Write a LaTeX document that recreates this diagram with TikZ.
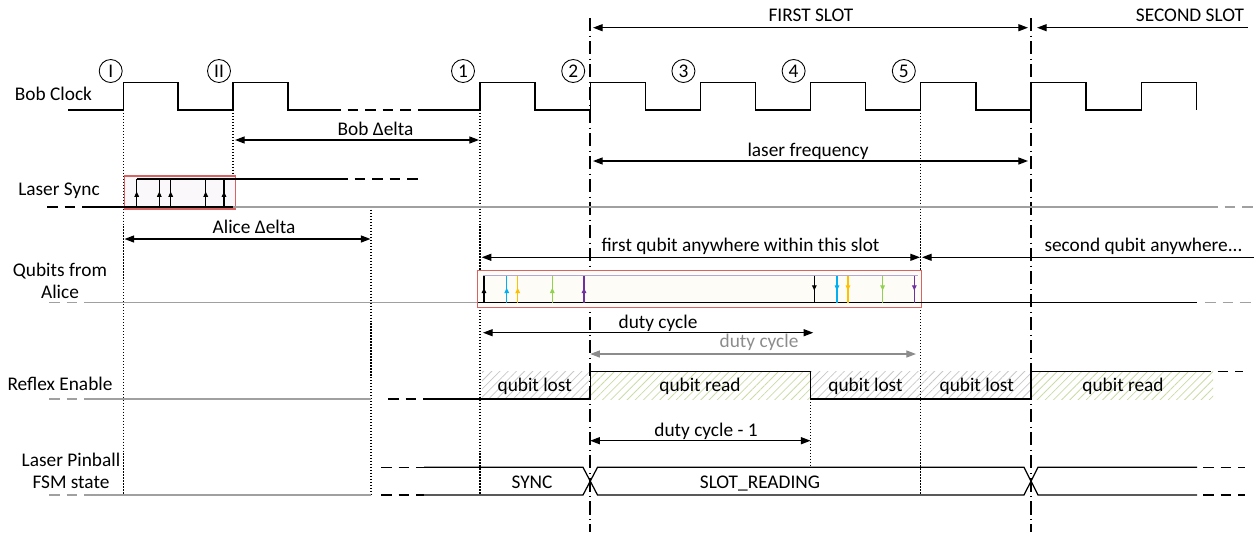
\documentclass[tikz,border=0pt]{standalone}
\usepackage{fontspec}
\setmainfont{Carlito}
\usepackage{tikz}
\usepackage{xcolor}
\usetikzlibrary{arrows.meta,decorations.markings,patterns.meta}
\definecolor{boxred}{HTML}{D96262}
\definecolor{boxfill}{HTML}{FAF8FA}
\definecolor{qfill}{HTML}{FDFCF6}
\definecolor{lineg}{HTML}{A0A0A0}
\definecolor{textg}{HTML}{8C8C8C}
\definecolor{lav}{HTML}{B4A7D6}
\definecolor{qblue}{HTML}{00B0F0}
\definecolor{qyellow}{HTML}{FFC000}
\definecolor{qgreen}{HTML}{92D050}
\definecolor{qpurple}{HTML}{7030A0}
\definecolor{hatchg}{HTML}{C8C8C8}
\definecolor{hatchgr}{HTML}{CADBA6}

\begin{document}
\begin{tikzpicture}[x=0.02cm,y=-0.02cm,font=\fontsize{11}{12.7}\selectfont,
  sig/.style={line width=0.7pt},
  base/.style={lineg,line width=0.7pt},
  dsh/.style={dash pattern=on 6pt off 4pt},
  tick/.style={line width=0.6pt,dash pattern=on 0.7pt off 1pt},
  slot/.style={line width=0.9pt,dash pattern=on 7.5pt off 2.5pt on 0.6pt off 2.5pt},
  dim/.style={line width=0.7pt,{Triangle[length=5.5pt,width=4pt]}-{Triangle[length=5.5pt,width=4pt]}},
  num/.style={circle,draw,line width=0.5pt,minimum size=0.46cm,inner sep=0pt},
  lbl/.style={anchor=base,inner sep=0pt},
  qup/.style={line width=0.7pt,postaction={decorate},
    decoration={markings,mark=at position 0.55 with {\arrow{Triangle[length=3pt,width=2.6pt]}}}},
  lost/.style={pattern={Lines[angle=45,distance=3.3pt,line width=0.45pt]},pattern color=hatchg},
  read/.style={pattern={Lines[angle=45,distance=3.3pt,line width=0.45pt]},pattern color=hatchgr}]
\useasboundingbox (0,0) rectangle (1254,535);

\fill[lost] (482,371.7) rectangle (590.2,399);
\fill[read] (590.2,371.7) rectangle (810.6,399);
\fill[lost] (810.6,371.7) rectangle (1031,399);
\fill[read] (1031,371.7) rectangle (1213,399);

\draw[slot] (590.2,18)--(590.2,532);
\draw[slot] (1031,18)--(1031,532);
\draw[tick] (123.7,110)--(123.7,495);
\draw[tick] (233,110)--(233,207);
\draw[tick] (371,207)--(371,495);
\draw[tick] (480,110)--(480,495);
\draw[tick] (810.6,399)--(810.6,467.3);
\draw[tick] (920.8,110)--(920.8,495);

\node[lbl] (lclk) at (53.5,100) {Bob Clock};
\node[lbl] (lsync) at (59,195) {Laser Sync};
\node[align=center,inner sep=0pt] (lqub) at (60,281) {Qubits from\\Alice};
\node[lbl] (lrefl) at (60,390) {Reflex Enable};
\node[align=center,inner sep=0pt] (lfsm) at (71,471) {Laser Pinball\\FSM state};

\draw[sig] (68,110)--(123.7,110)--(123.7,82.7)--(178,82.7)--(178,110)--(233,110)--(233,82.7)--(288,82.7)--(288,110)--(330,110);
\draw[sig,dsh] (330,110)--(422,110);
\draw[sig] (422,110) foreach \i in {0,...,5}{--({480+110.2*\i},110)--++(0,-27.3)--++(55.1,0)--++(0,27.3)}
  --(1141.2,110)--(1141.2,82.7)--(1196.3,82.7)--(1196.3,110);
\node[num] (cI) at (110.7,71) {I};
\node[num] (cII) at (219,71) {II};
\foreach \n in {1,...,5} \node[num] (c\n) at ({463+110.2*(\n-1)},71) {\n};

\draw[dim] (593,27.7)--(1028,27.7);
\draw[sig,{Triangle[length=5.5pt,width=4pt]}-] (1037,27.7)--(1248,27.7);
\node[lbl] (tfirst) at (811,21.5) {FIRST SLOT};
\node[lbl] (tsecond) at (1190,21.5) {SECOND SLOT};
\draw[dim] (235,140)--(479,140);
\node[lbl] (tbob) at (375.5,135) {Bob Δelta};
\draw[dim] (593,161)--(1028,161);
\node[lbl] (tfreq) at (808,156) {laser frequency};

\draw[draw=boxred,fill=boxfill,line width=0.8pt] (124.3,176) rectangle (235.3,209);
\draw[sig,dsh] (47,207)--(90,207);
\draw[sig] (90,207)--(233,207);
\draw[sig] (136.7,179)--(337,179);
\draw[sig,dsh] (337,179)--(418,179);
\draw[base] (233,207)--(1207,207);
\draw[base,dsh] (1207,207)--(1254,207);
\foreach \x in {136.7,159.3,170.7,205.7,224} \draw[qup] (\x,207)--(\x,179);

\draw[dim] (124.5,239)--(370.5,239);
\node[lbl] (talice) at (254,233.3) {Alice Δelta};
\draw[dim] (481.7,257.3)--(920,257.3);
\node[lbl] (tfq) at (740.5,251.7) {first qubit anywhere within this slot};
\draw[sig,{Triangle[length=5.5pt,width=4pt]}-] (922,257.3)--(1254,257.3);
\node[lbl] (tsq) at (1143.5,251.7) {second qubit anywhere...};

\draw[base,dsh] (49,302.7)--(90,302.7);
\draw[base] (90,302.7)--(478,302.7);
\draw[draw=boxred,fill=qfill,line width=0.8pt] (477.7,270.7) rectangle (921.7,307.3);
\draw[lav,line width=0.8pt] (483,275.7)--(918,275.7);
\draw[sig] (478,302.7)--(1197,302.7);
\draw[base,dsh] (1205,302.7)--(1254,302.7);
\foreach \x/\c in {484/black,506.7/qblue,517.7/qyellow,552.3/qgreen,584/qpurple}{
  \draw[qup,\c] (\x,302.7)--(\x,275.7);
  \draw[qup,\c] ({\x+330.3},275.7)--({\x+330.3},302.7);
}

\draw[dim] (483,332.7)--(813.3,332.7);
\node[lbl] (tduty) at (658,328.3) {duty cycle};
\draw[dim,textg] (590.2,354)--(916,354);
\node[lbl,textg] (tduty2) at (759,347.7) {duty cycle};

\draw[base,dsh] (49,399)--(90,399);
\draw[base] (90,399)--(371,399);
\draw[sig,dsh] (388,399)--(428,399);
\draw[sig] (428,399)--(590.2,399)--(590.2,371.7)--(810.6,371.7)--(810.6,399)--(1031,399)--(1031,371.7)--(1200,371.7);
\draw[sig,dsh] (1200,371.7)--(1243,371.7);
\node[lbl] (tl1) at (534.7,391.7) {qubit lost};
\node[lbl] (tr1) at (700,391.7) {qubit read};
\node[lbl] (tl2) at (865.5,391.7) {qubit lost};
\node[lbl] (tl3) at (976.7,391.7) {qubit lost};
\node[lbl] (tr2) at (1123,391.7) {qubit read};

\draw[dim] (590.2,440.7)--(810.6,440.7);
\node[lbl] (tduty3) at (706,436) {duty cycle - 1};

\draw[base,dsh] (49,495)--(90,495);
\draw[base] (90,495)--(371,495);
\draw[sig,dsh] (381,467.3)--(424,467.3) (381,495)--(424,495);
\draw[sig] (424,467.3)--(583,467.3)--(597.5,495)--(1024,495)--(1038,467.3)--(1197,467.3);
\draw[sig] (424,495)--(583,495)--(597.5,467.3)--(1024,467.3)--(1038,495)--(1197,495);
\draw[sig,dsh] (1203,467.3)--(1245,467.3) (1203,495)--(1245,495);
\node[lbl] (tsync) at (532,488.3) {SYNC};
\node[lbl] (tslot) at (760,488.3) {SLOT\_READING};
\end{tikzpicture}
\end{document}
